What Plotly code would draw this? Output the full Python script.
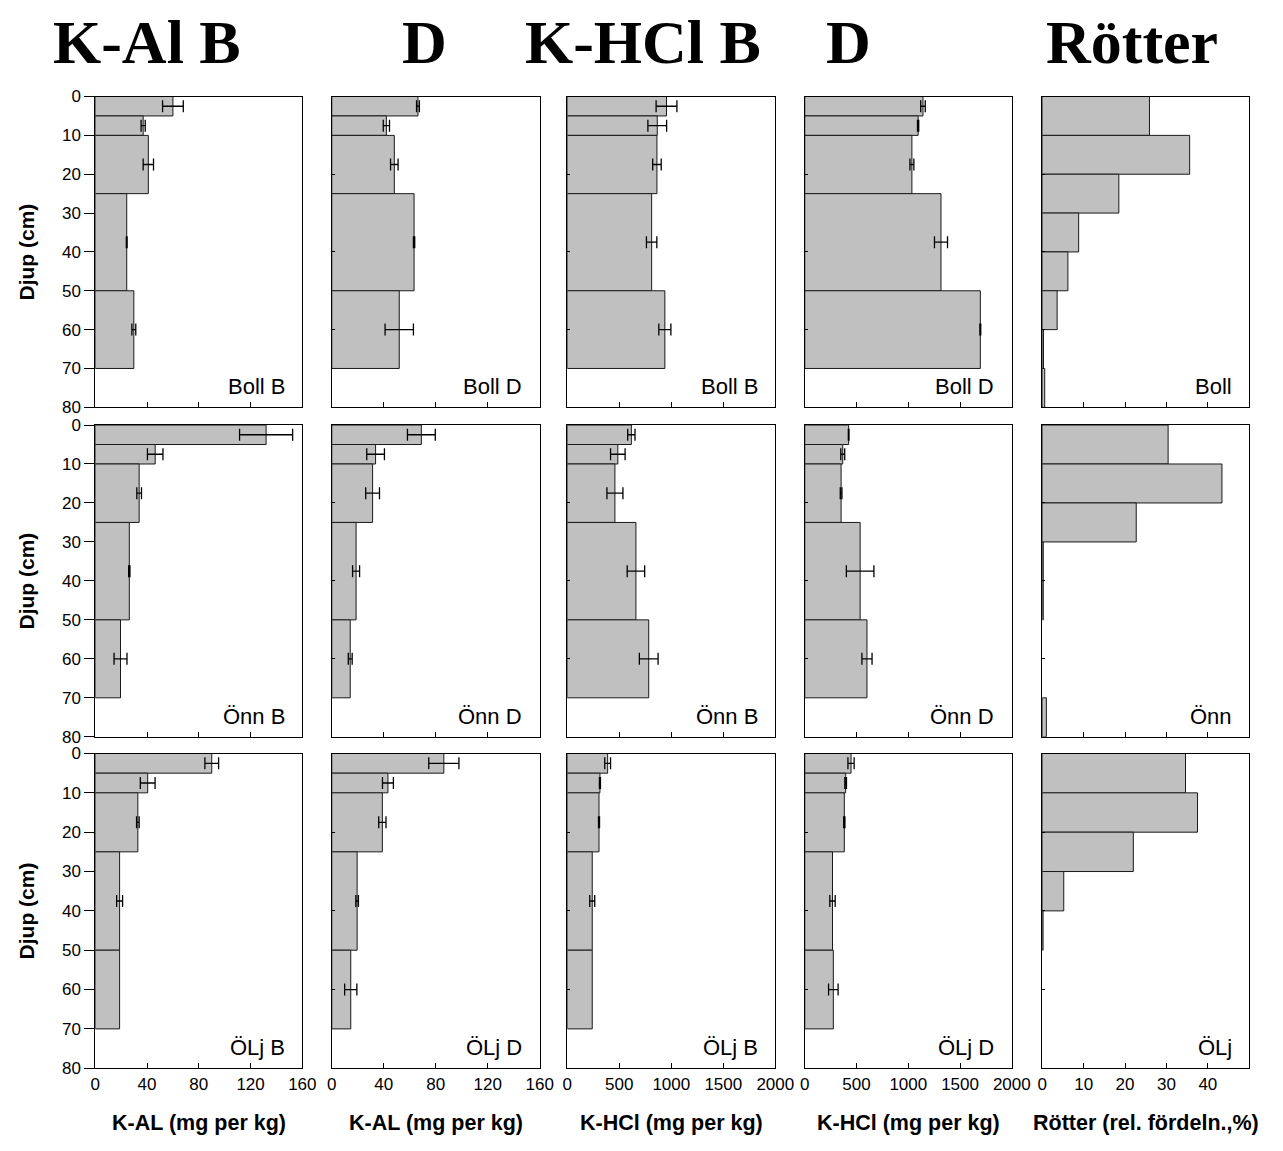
import plotly.graph_objects as go

# Soil sampling layers (cm)
layer_top = [0, 5, 10, 25, 50]
layer_bottom = [5, 10, 25, 50, 70]

# Root sampling layers (cm)
root_top = [0, 10, 20, 30, 40, 50, 60, 70]
root_bottom = [10, 20, 30, 40, 50, 60, 70, 80]

# K-AL (mg per kg), mean and standard error
kal_boll_b = [60, 37, 41, 24.3, 29.8]
kal_boll_b_err = [8, 1.6, 4, 0.3, 1.5]
kal_boll_d = [66.3, 42, 48.1, 63.3, 51.9]
kal_boll_d_err = [1.1, 2.4, 2.9, 0.5, 10.9]
kal_onn_b = [132, 46.3, 33.9, 26.3, 19.5]
kal_onn_b_err = [20.5, 6, 1.8, 0.5, 5]
kal_onn_d = [68.9, 33.7, 31.4, 18.7, 14.2]
kal_onn_d_err = [10.7, 6.8, 5.3, 2.7, 1.5]
kal_olj_b = [90, 40.5, 32.9, 18.8, 18.8]
kal_olj_b_err = [5.3, 5.7, 1, 2.3, None]
kal_olj_d = [86.2, 43.2, 38.9, 19.5, 14.6]
kal_olj_d_err = [11.6, 4.2, 2.8, 1, 4.7]

# K-HCl (mg per kg), mean and standard error
khcl_boll_b = [954, 865, 862, 811, 938]
khcl_boll_b_err = [100, 90, 41, 50, 58]
khcl_boll_d = [1142, 1095, 1035, 1316, 1696]
khcl_boll_d_err = [22, 6, 19, 63, 4]
khcl_onn_b = [616, 486, 458, 660, 783]
khcl_onn_b_err = [35, 70, 77, 84, 90]
khcl_onn_d = [424, 367, 351, 535, 601]
khcl_onn_d_err = [3, 19, 8, 133, 49]
khcl_olj_b = [388, 314, 305, 240, 240]
khcl_olj_b_err = [28, 5, 5, 24, None]
khcl_olj_d = [447, 395, 382, 268, 276]
khcl_olj_d_err = [30, 8, 6, 26, 46]

# Relative root distribution (%)
roots_boll = [25.9, 35.6, 18.5, 8.8, 6.2, 3.6, 0.3, 0.6]
roots_onn = [30.4, 43.4, 22.7, 0.25, 0.25, None, None, 1.0]
roots_olj = [34.6, 37.5, 22.0, 5.2, 0.2, None, None, None]

sites = ["Boll", "Önn", "ÖLj"]
column_titles = ["K-Al B", "D", "K-HCl B", "D", "Rötter"]
x_titles = ["K-AL (mg per kg)", "K-AL (mg per kg)", "K-HCl (mg per kg)",
            "K-HCl (mg per kg)", "Rötter (rel. fördeln.,%)"]
panel_suffix = [" B", " D", " B", " D", ""]

kal_ticks = [0, 40, 80, 120, 160]
khcl_ticks = [0, 500, 1000, 1500, 2000]
root_ticks = [0, 10, 20, 30, 40]
depth_ticks = [0, 10, 20, 30, 40, 50, 60, 70, 80]
depth_minor_ticks = [0, 20, 40, 60, 80]

panels = [
    [(kal_boll_b, kal_boll_b_err), (kal_boll_d, kal_boll_d_err),
     (khcl_boll_b, khcl_boll_b_err), (khcl_boll_d, khcl_boll_d_err), (roots_boll, None)],
    [(kal_onn_b, kal_onn_b_err), (kal_onn_d, kal_onn_d_err),
     (khcl_onn_b, khcl_onn_b_err), (khcl_onn_d, khcl_onn_d_err), (roots_onn, None)],
    [(kal_olj_b, kal_olj_b_err), (kal_olj_d, kal_olj_d_err),
     (khcl_olj_b, khcl_olj_b_err), (khcl_olj_d, khcl_olj_d_err), (roots_olj, None)],
]
x_ranges = [[0, 160], [0, 160], [0, 2000], [0, 2000], [0, 50]]
x_tickvals = [kal_ticks, kal_ticks, khcl_ticks, khcl_ticks, root_ticks]

# Page geometry (pixels)
W, H = 1283, 1151
col_px = [(92, 303), (333, 545), (573, 785), (815, 1026), (1057, 1268)]
row_px = [(89, 405), (423, 740), (757, 1077)]

SANS = "Arial, Liberation Sans, sans-serif"
SERIF = "Times New Roman, Liberation Serif, serif"
BAR_FILL = "#c0c0c0"
INK = "#000000"


def px_x(p):
    return p / W


def px_y(p):
    return 1 - p / H


fig = go.Figure()
layout_axes = {}
annotations = []

for r in range(3):
    for c in range(5):
        n = r * 5 + c + 1
        sfx = "" if n == 1 else str(n)
        values, errors = panels[r][c]
        if c == 4:
            tops, bottoms = root_top, root_bottom
        else:
            tops, bottoms = layer_top, layer_bottom

        keep = [i for i, v in enumerate(values) if v is not None]
        mids = [(tops[i] + bottoms[i]) / 2 for i in keep]
        thick = [bottoms[i] - tops[i] for i in keep]
        fig.add_trace(go.Bar(
            x=[values[i] for i in keep], y=mids, width=thick, orientation="h",
            base=0,
            marker=dict(color=BAR_FILL, line=dict(color="#1a1a1a", width=1)),
            xaxis="x" + sfx, yaxis="y" + sfx, showlegend=False, hoverinfo="x+y",
        ))

        if errors is not None:
            ek = [i for i in keep if errors[i] is not None]
            fig.add_trace(go.Scatter(
                x=[values[i] for i in ek],
                y=[(tops[i] + bottoms[i]) / 2 for i in ek],
                mode="markers",
                marker=dict(size=1, color="rgba(0,0,0,0)"),
                error_x=dict(type="data", array=[errors[i] for i in ek],
                             visible=True, color=INK, thickness=1.3, width=6),
                xaxis="x" + sfx, yaxis="y" + sfx, showlegend=False,
                hoverinfo="skip",
            ))

        x0, x1 = col_px[c]
        y0, y1 = row_px[r]
        layout_axes["xaxis" + sfx] = dict(
            domain=[px_x(x0), px_x(x1)], anchor="y" + sfx,
            range=x_ranges[c], tickvals=x_tickvals[c],
            ticks="inside", ticklen=5, tickwidth=1, tickcolor=INK,
            showticklabels=(r == 2),
            tickfont=dict(family=SANS, size=17, color=INK),
            showline=True, mirror=True, linecolor=INK, linewidth=1,
            showgrid=False, zeroline=False, fixedrange=True,
        )
        layout_axes["yaxis" + sfx] = dict(
            domain=[px_y(y1), px_y(y0)], anchor="x" + sfx,
            range=[80, 0], tickvals=depth_ticks if c == 0 else depth_minor_ticks,
            ticks="outside" if c == 0 else "inside",
            ticklen=10 if c == 0 else 3, tickwidth=1, tickcolor=INK,
            showticklabels=(c == 0),
            tickfont=dict(family=SANS, size=17, color=INK),
            showline=True, mirror=True, linecolor=INK, linewidth=1,
            showgrid=False, zeroline=False, fixedrange=True,
        )

        # site / treatment label in the lower-right corner
        annotations.append(dict(
            text=sites[r] + panel_suffix[c], xref="paper", yref="paper",
            x=px_x(x1 - 16), y=px_y(y1 - 6), xanchor="right", yanchor="bottom",
            showarrow=False, font=dict(family=SANS, size=22, color=INK),
        ))

# Column headings
title_x = [145, 427, 650, 860, 1148]
for c in range(5):
    annotations.append(dict(
        text="<b>" + column_titles[c] + "</b>", xref="paper", yref="paper",
        x=px_x(title_x[c]), y=px_y(34), xanchor="center", yanchor="middle",
        showarrow=False, font=dict(family=SERIF, size=62, color=INK),
    ))

# X axis titles
for c in range(5):
    x0, x1 = col_px[c]
    annotations.append(dict(
        text="<b>" + x_titles[c] + "</b>", xref="paper", yref="paper",
        x=px_x((x0 + x1) / 2), y=px_y(1133), xanchor="center", yanchor="middle",
        showarrow=False, font=dict(family=SANS, size=21.5, color=INK),
    ))

# Depth axis titles
for r in range(3):
    y0, y1 = row_px[r]
    annotations.append(dict(
        text="<b>Djup (cm)</b>", xref="paper", yref="paper",
        x=px_x(22), y=px_y((y0 + y1) / 2), xanchor="center", yanchor="middle",
        textangle=-90, showarrow=False, font=dict(family=SANS, size=21, color=INK),
    ))

fig.update_layout(
    width=W, height=H,
    margin=dict(l=0, r=0, t=0, b=0),
    paper_bgcolor="white", plot_bgcolor="white",
    barmode="overlay",
    annotations=annotations,
    **layout_axes,
)

fig.write_html("out.html", config={"displayModeBar": False})
